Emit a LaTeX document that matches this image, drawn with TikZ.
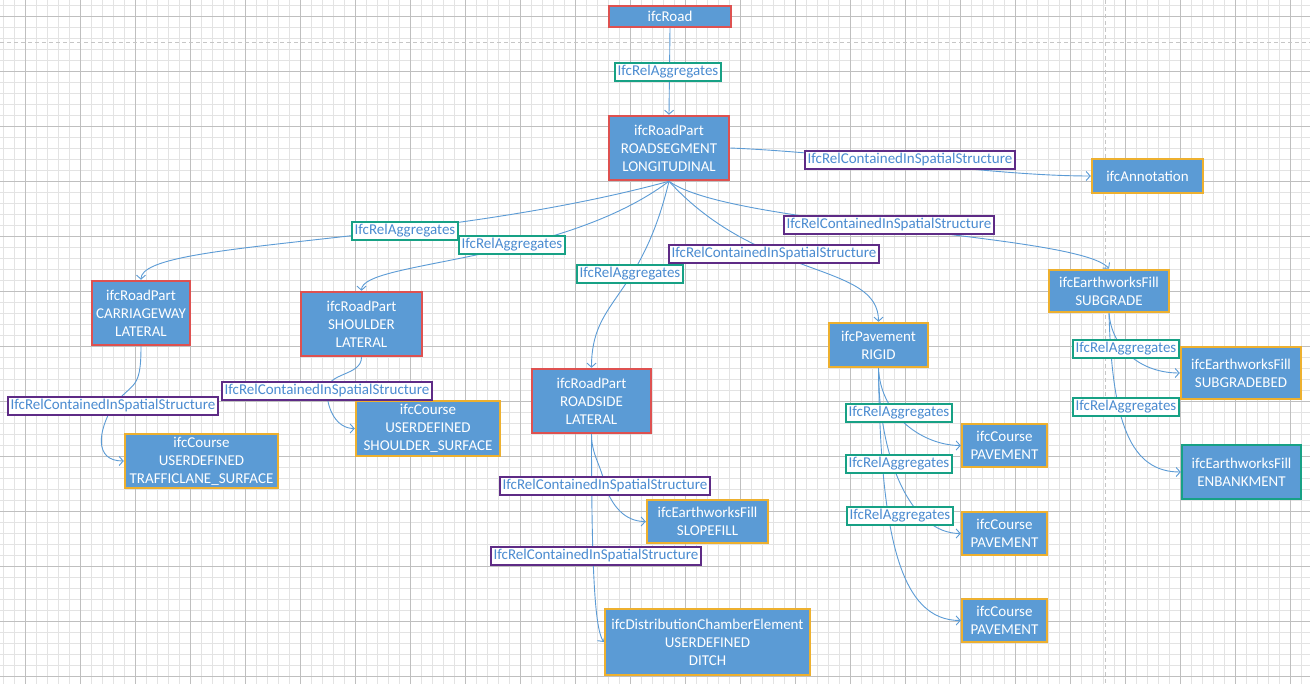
\documentclass[tikz,border=0pt]{standalone}
\usepackage{fontspec}
\setmainfont{Carlito}
\usetikzlibrary{arrows.meta}
\definecolor{boxblue}{HTML}{5B9BD5}
\definecolor{bred}{HTML}{DE5150}
\definecolor{borange}{HTML}{EDB02F}
\definecolor{bteal}{HTML}{17A185}
\definecolor{bpurple}{HTML}{5E2B86}
\definecolor{labtext}{HTML}{4A8BD0}
\definecolor{conncol}{HTML}{5B9BD5}
\pgfdeclarelayer{grid}
\pgfdeclarelayer{edges}
\pgfsetlayers{grid,edges,main}
\begin{document}
\begin{tikzpicture}[x=1pt,y=1pt,
 box/.style={draw, fill=boxblue, line width=2.5pt, text=white, align=center, font=\fontsize{15}{18}\selectfont, inner sep=0pt},
 rbox/.style={box, draw=bred},
 obox/.style={box, draw=borange},
 tbox/.style={box, draw=bteal},
 lab/.style={draw, fill=white, line width=2pt, text=labtext, font=\fontsize{15}{18}\selectfont, inner xsep=2.5pt, inner ysep=0pt, minimum height=18},
 agg/.style={lab, draw=bteal},
 con/.style={lab, draw=bpurple},
 link/.style={draw=conncol, line width=0.9pt, -{Straight Barb[length=4pt,width=9pt]}},
 minorline/.style={gray!22, line width=0.6pt},
 majorline/.style={gray!50, line width=0.8pt}]
\useasboundingbox (0,0) rectangle (1310,-684);
\begin{pgfonlayer}{grid}
\fill[white] (0,0) rectangle (1310,-684);
\foreach \x in {3,14,...,1310} \draw[minorline] (\x,0) -- (\x,-684);
\foreach \y in {5,16,...,684} \draw[minorline] (0,-\y) -- (1310,-\y);
\foreach \x in {25,80,...,1310} \draw[majorline] (\x,0) -- (\x,-684);
\foreach \y in {16,71,...,684} \draw[majorline] (0,-\y) -- (1310,-\y);
\draw[gray!45, line width=0.8pt, dash pattern=on 4pt off 3pt] (0,-42) -- (1310,-42);
\draw[gray!45, line width=0.8pt, dash pattern=on 4pt off 3pt] (1105,0) -- (1105,-684);
\end{pgfonlayer}

% boxes
\node[rbox, minimum width=122, minimum height=21] (road) at (670,-16.5) {ifcRoad};
\node[rbox, minimum width=120, minimum height=64] (seg) at (669,-148) {ifcRoadPart\\ROADSEGMENT\\LONGITUDINAL};
\node[obox, minimum width=111, minimum height=34] (annot) at (1147.5,-176) {ifcAnnotation};
\node[rbox, minimum width=98, minimum height=64] (carr) at (141,-313) {ifcRoadPart\\CARRIAGEWAY\\LATERAL};
\node[rbox, minimum width=121, minimum height=64] (shou) at (361.5,-324) {ifcRoadPart\\SHOULDER\\LATERAL};
\node[obox, minimum width=144, minimum height=55] (ss) at (428,-428.5) {ifcCourse\\USERDEFINED\\SHOULDER\_SURFACE};
\node[obox, minimum width=153, minimum height=54] (tl) at (201.5,-461) {ifcCourse\\USERDEFINED\\TRAFFICLANE\_SURFACE};
\node[rbox, minimum width=119, minimum height=64] (rside) at (591.5,-401) {ifcRoadPart\\ROADSIDE\\LATERAL};
\node[obox, minimum width=121, minimum height=43] (slope) at (707.5,-521.5) {ifcEarthworksFill\\SLOPEFILL};
\node[obox, minimum width=205, minimum height=66] (ditch) at (707.5,-642) {ifcDistributionChamberElement\\USERDEFINED\\DITCH};
\node[obox, minimum width=99, minimum height=44] (pave) at (878.5,-345) {ifcPavement\\RIGID};
\node[obox, minimum width=85, minimum height=43] (c1) at (1004.5,-445.5) {ifcCourse\\PAVEMENT};
\node[obox, minimum width=85, minimum height=43] (c2) at (1004.5,-533.5) {ifcCourse\\PAVEMENT};
\node[obox, minimum width=85, minimum height=43] (c3) at (1004.5,-620.5) {ifcCourse\\PAVEMENT};
\node[obox, minimum width=120, minimum height=42] (subg) at (1109,-291) {ifcEarthworksFill\\SUBGRADE};
\node[obox, minimum width=120, minimum height=52] (sbed) at (1241,-373) {ifcEarthworksFill\\SUBGRADEBED};
\node[tbox, minimum width=119, minimum height=54] (enb) at (1241.5,-472) {ifcEarthworksFill\\ENBANKMENT};

% labels
\node[agg] (l1) at (668,-72) {IfcRelAggregates};
\node[con] (l2) at (910,-160) {IfcRelContainedInSpatialStructure};
\node[agg] (l3) at (405,-231) {IfcRelAggregates};
\node[agg] (l4) at (512,-245) {IfcRelAggregates};
\node[con] (l5) at (889,-225) {IfcRelContainedInSpatialStructure};
\node[con] (l6) at (774,-254) {IfcRelContainedInSpatialStructure};
\node[agg] (l7) at (630,-274) {IfcRelAggregates};
\node[con] (l8) at (113,-406) {IfcRelContainedInSpatialStructure};
\node[con] (l9) at (327,-391) {IfcRelContainedInSpatialStructure};
\node[con] (l10) at (605,-486) {IfcRelContainedInSpatialStructure};
\node[con] (l11) at (596,-556) {IfcRelContainedInSpatialStructure};
\node[agg] (l12) at (899,-413) {IfcRelAggregates};
\node[agg] (l13) at (899,-464) {IfcRelAggregates};
\node[agg] (l14) at (900,-516) {IfcRelAggregates};
\node[agg] (l15) at (1126,-349) {IfcRelAggregates};
\node[agg] (l16) at (1126,-407) {IfcRelAggregates};

\begin{pgfonlayer}{edges}
\draw[link] (road.south) -- (seg.north);
\draw[link] (seg.east) .. controls +(120,-5) and +(-100,0) .. (annot.west);
\draw[link] (seg.south) .. controls +(-239,-65) and +(0,40) .. (carr.north);
\draw[link] (seg.south) .. controls +(-109,-82) and +(0,30) .. (shou.north);
\draw[link] (seg.south) .. controls +(-29,-120) and +(0,70) .. (rside.north);
\draw[link] (seg.south) .. controls +(91,-100) and +(0,60) .. (pave.north);
\draw[link] (seg.south) .. controls +(61,-45) and +(-29,35) .. (subg.north);
\draw[link] (carr.south) .. controls +(0,-45) and +(20,25) .. (l8.center)
  .. controls +(-15,-25) and +(-30,0) .. (tl.west);
\draw[link] (shou.south) to[out=-90,in=90] (l9.center) to[out=-90,in=180] (ss.west);
\draw[link] (rside.south) to[out=-90,in=100] (l10.center) to[out=-70,in=180] (slope.west);
\draw[link] (rside.south) .. controls +(0,-150) and +(-8,12) .. (ditch.west);
\draw[link] (pave.south) .. controls +(2,-48) and +(-37,0) .. (c1.west);
\draw[link] (pave.south) .. controls +(0,-90) and +(-50,0) .. (c2.west);
\draw[link] (pave.south) .. controls +(2,-170) and +(-60,0) .. (c3.west);
\draw[link] (subg.south) .. controls +(3,-37) and +(-37,0) .. (sbed.west);
\draw[link] (subg.south) .. controls +(3,-110) and +(-50,0) .. (enb.west);
\end{pgfonlayer}
\end{tikzpicture}
\end{document}
